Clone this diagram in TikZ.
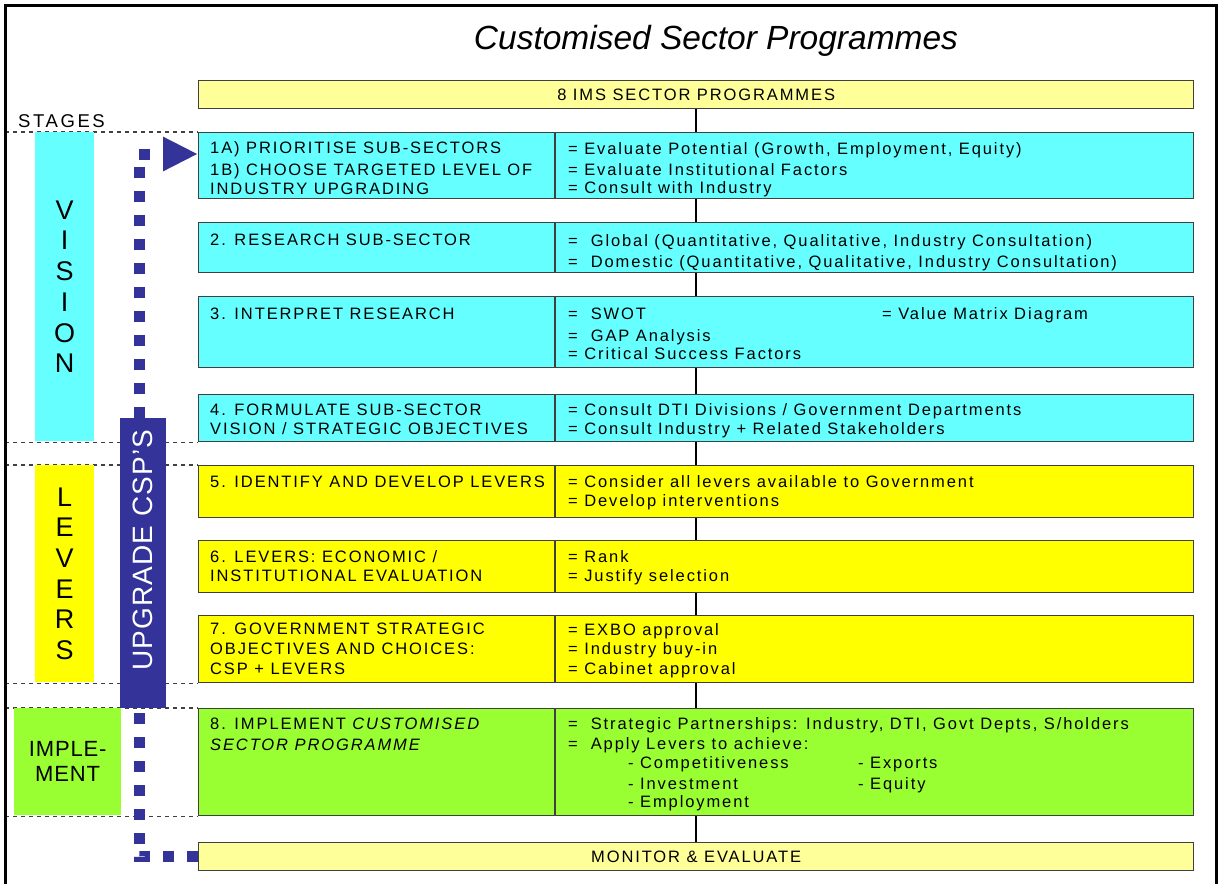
\documentclass[tikz,border=0pt]{standalone}
\usepackage{fontspec}
\setmainfont{Liberation Sans}
\usetikzlibrary{arrows.meta,calc}
\definecolor{cyanbox}{HTML}{66FFFF}
\definecolor{yelbox}{HTML}{FFFF00}
\definecolor{grnbox}{HTML}{99FF33}
\definecolor{paleyel}{HTML}{FFFF99}
\definecolor{navy}{HTML}{333399}
\definecolor{edge}{HTML}{404040}
\newcommand\bodyfont{\fontsize{16.5}{19}\selectfont\addfontfeature{LetterSpace=11.5}}
\begin{document}
\begin{tikzpicture}[x=1pt,y=-1pt,
 box/.style={draw=edge,line width=1.3pt,anchor=north west,inner sep=0pt,minimum width=995pt},
 stagebar/.style={anchor=north west,inner sep=0pt},
 txt/.style={anchor=base west,inner sep=0pt,font=\bodyfont},
 stagedash/.style={draw=black!75,dash pattern=on 4pt off 4pt,line width=1.2pt},
 flow/.style={draw=black,line width=2pt},
 divider/.style={draw=edge,line width=1.3pt},
 dots/.style={draw=navy,line width=11pt,dash pattern=on 11pt off 13pt},
 bigletters/.style={align=center,inner sep=0pt,font={\fontsize{27}{30.7}\selectfont}},
]
\useasboundingbox (0,0) rectangle (1221,884);
\coordinate (lefte) at (5,0);
\coordinate (divx) at (555,0);
\coordinate (dotx) at (139,0);

% boxes
\node[box,fill=paleyel,minimum height=28pt] (top) at (198,80) {};
\node[box,fill=cyanbox,minimum height=66pt] (b1) at (198,132) {};
\node[box,fill=cyanbox,minimum height=50pt] (b2) at (198,222) {};
\node[box,fill=cyanbox,minimum height=71pt] (b3) at (198,296) {};
\node[box,fill=cyanbox,minimum height=47pt] (b4) at (198,394) {};
\node[box,fill=yelbox,minimum height=52pt] (b5) at (198,465) {};
\node[box,fill=yelbox,minimum height=52pt] (b6) at (198,540) {};
\node[box,fill=yelbox,minimum height=67pt] (b7) at (198,615) {};
\node[box,fill=grnbox,minimum height=107pt] (b8) at (198,708) {};
\node[box,fill=paleyel,minimum height=28pt] (mon) at (198,842) {};

% dividers
\foreach \b in {b1,b2,b3,b4,b5,b6,b7,b8}
  \draw[divider] (\b.north -| divx) -- (\b.south -| divx);

% flow connectors
\draw[flow] (top.south) -- (b1.north);
\draw[flow] (b1.south) -- (b2.north);
\draw[flow] (b2.south) -- (b3.north);
\draw[flow] (b3.south) -- (b4.north);
\draw[flow] (b4.south) -- (b5.north);
\draw[flow] (b5.south) -- (b6.north);
\draw[flow] (b6.south) -- (b7.north);
\draw[flow] (b7.south) -- (b8.north);
\draw[flow] (b8.south) -- (mon.north);

% stage dashed lines
\draw[stagedash] (b1.north west -| lefte) -- (b1.north west);
\draw[stagedash] (b4.south west -| lefte) -- (b4.south west);
\draw[stagedash] (b5.north west -| lefte) -- (b5.north west);
\draw[stagedash] (b7.south west -| lefte) -- (b7.south west);
\draw[stagedash] (b8.north west -| lefte) -- (b8.north west);
\draw[stagedash] (b8.south west -| lefte) -- (b8.south west);

% frame
\draw[line width=3pt] (5.5,884) -- (5.5,5.5) -- (1216.5,5.5) -- (1216.5,884);

% title
\node[anchor=base,inner sep=0pt,font={\fontsize{33.5}{36}\selectfont\itshape}] (title) at (716,49) {Customised Sector Programmes};

% stage bars
\node[stagebar,fill=cyanbox,minimum width=59pt,minimum height=309pt] (vis) at (35,132) {};
\node[bigletters] (vistxt) at (vis.center) {V\\I\\S\\I\\O\\N};
\node[stagebar,fill=yelbox,minimum width=59pt,minimum height=217pt] (lev) at (35,465) {};
\node[bigletters] (levtxt) at (lev.center) {L\\E\\V\\E\\R\\S};
\node[stagebar,fill=grnbox,minimum width=107pt,minimum height=107pt] (imp) at (14,708) {};
\node[align=center,inner sep=0pt,font={\fontsize{22}{25}\selectfont\addfontfeature{LetterSpace=4}}] (imptxt) at (imp.center) {IMPLE-\\MENT};
\node[anchor=base west,inner sep=0pt,font={\fontsize{18.5}{20}\selectfont\addfontfeature{LetterSpace=14}}] (stages) at (18,127) {STAGES};

% upgrade path
\node[stagebar,fill=navy,minimum width=46pt,minimum height=290pt] (up) at (120,418) {};
\draw[dots] (mon.west) -| (up.south -| dotx);
\draw[dots,-{Triangle[length=35pt,width=32pt]}] (up.north -| dotx) |- ($(b1.north west)+(0,22)$);
\node[rotate=90,text=white,inner sep=0pt,font={\fontsize{28}{30}\selectfont\addfontfeature{LetterSpace=4}}] (uptxt) at ($(up.center)+(0,-13)$) {UPGRADE CSP’S};

% box texts
\node[font=\bodyfont,anchor=base,inner sep=0pt] (toptxt) at ($(top.center)+(0,6)$) {8 IMS SECTOR PROGRAMMES};
\node[font=\bodyfont,anchor=base,inner sep=0pt] (montxt) at ($(mon.center)+(0,6)$) {MONITOR \& EVALUATE};

\node[txt] (l1a) at (210,153) {1A) PRIORITISE SUB-SECTORS};
\node[txt] (l1b) at (210,175) {1B) CHOOSE TARGETED LEVEL OF};
\node[txt] (l1c) at (210,194) {INDUSTRY UPGRADING};
\node[txt] (r1a) at (568,154) {= Evaluate Potential (Growth, Employment, Equity)};
\node[txt] (r1b) at (568,175) {= Evaluate Institutional Factors};
\node[txt] (r1c) at (568,193) {= Consult with Industry};

\node[txt] (l2a) at (210,245) {2. RESEARCH SUB-SECTOR};
\node[txt] (r2a) at (568,246) {=~ Global (Quantitative, Qualitative, Industry Consultation)};
\node[txt] (r2b) at (568,267) {=~ Domestic (Quantitative, Qualitative, Industry Consultation)};

\node[txt] (l3a) at (210,319) {3. INTERPRET RESEARCH};
\node[txt] (r3a) at (568,319) {=~ SWOT};
\node[txt] (r3b) at (882,319) {= Value Matrix Diagram};
\node[txt] (r3c) at (568,341) {=~ GAP Analysis};
\node[txt] (r3d) at (568,359) {= Critical Success Factors};

\node[txt] (l4a) at (210,415) {4. FORMULATE SUB-SECTOR};
\node[txt] (l4b) at (210,434) {VISION / STRATEGIC OBJECTIVES};
\node[txt] (r4a) at (568,415) {= Consult DTI Divisions / Government Departments};
\node[txt] (r4b) at (568,434) {= Consult Industry + Related Stakeholders};

\node[txt] (l5a) at (210,487) {5. IDENTIFY AND DEVELOP LEVERS};
\node[txt] (r5a) at (568,487) {= Consider all levers available to Government};
\node[txt] (r5b) at (568,506) {= Develop interventions};

\node[txt] (l6a) at (210,562) {6. LEVERS: ECONOMIC /};
\node[txt] (l6b) at (210,581) {INSTITUTIONAL EVALUATION};
\node[txt] (r6a) at (568,562) {= Rank};
\node[txt] (r6b) at (568,581) {= Justify selection};

\node[txt] (l7a) at (210,634) {7. GOVERNMENT STRATEGIC};
\node[txt] (l7b) at (210,654) {OBJECTIVES AND CHOICES:};
\node[txt] (l7c) at (210,674) {CSP + LEVERS};
\node[txt] (r7a) at (568,635) {= EXBO approval};
\node[txt] (r7b) at (568,654) {= Industry buy-in};
\node[txt] (r7c) at (568,674) {= Cabinet approval};

\node[txt] (l8a) at (210,729) {8. IMPLEMENT \textit{CUSTOMISED}};
\node[txt] (l8b) at (210,750) {\textit{SECTOR PROGRAMME}};
\node[txt] (r8a) at (568,729) {=~ Strategic Partnerships: Industry, DTI, Govt Depts, S/holders};
\node[txt] (r8b) at (568,749) {=~ Apply Levers to achieve:};
\node[txt] (r8c) at (628,768) {- Competitiveness};
\node[txt] (r8d) at (858,768) {- Exports};
\node[txt] (r8e) at (628,789) {- Investment};
\node[txt] (r8f) at (858,789) {- Equity};
\node[txt] (r8g) at (628,807) {- Employment};
\end{tikzpicture}
\end{document}
